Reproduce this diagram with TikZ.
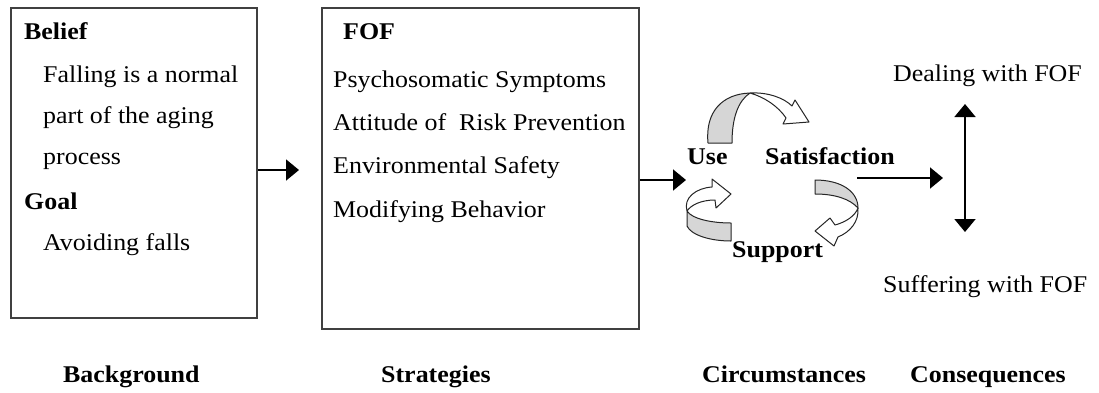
\documentclass[tikz,border=0pt]{standalone}
\usepackage{fontspec}
\setmainfont{Liberation Serif}[FakeStretch=1.08]
\usetikzlibrary{arrows.meta}
\begin{document}
\begin{tikzpicture}[x=1pt,y=-1pt,
  box/.style={draw=black!75, line width=1.6pt, inner sep=0pt},
  txt/.style={anchor=base west, inner sep=0pt, font=\fontsize{24}{28}\selectfont},
  hd/.style={anchor=base west, inner sep=0pt, font=\fontsize{24}{28}\selectfont\bfseries},
  arr/.style={line width=1.8pt, -{Triangle[length=13pt,width=21pt]}},
  darr/.style={line width=1.8pt, {Triangle[length=13pt,width=21pt]}-{Triangle[length=13pt,width=21pt]}},
  rib/.style={draw=black!85, line width=1pt, line join=round},
  ribgray/.style={rib, fill=black!16},
  ribwhite/.style={rib, fill=white},
]
\useasboundingbox (0,0) rectangle (1099,392);

% boxes
\node[box, minimum width=246pt, minimum height=310pt] (bg) at (134,163) {};
\node[box, minimum width=317pt, minimum height=321pt] (st) at (480.5,168.5) {};

% background box text
\node[hd]  (belief) at (24,39)  {Belief};
\node[txt] (b1)     at (43,82)  {Falling is a normal};
\node[txt] (b2)     at (43,123) {part of the aging};
\node[txt] (b3)     at (43,164) {process};
\node[hd]  (goal)   at (24,209) {Goal};
\node[txt] (g1)     at (43,250) {Avoiding falls};

% strategies box text
\node[hd]  (fof) at (343,39)  {FOF};
\node[txt] (s1)  at (333,87)  {Psychosomatic Symptoms};
\node[txt] (s2)  at (333,130) {Attitude of \ Risk Prevention};
\node[txt] (s3)  at (333,173) {Environmental Safety};
\node[txt] (s4)  at (333,217) {Modifying Behavior};

% circumstances
\node[hd] (use)  at (687,164) {Use};
\node[hd] (sat)  at (765,164) {Satisfaction};
\node[hd] (sup)  at (732,257) {Support};

% consequences
\node[txt] (deal) at (893,81)  {Dealing with FOF};
\node[txt] (suff) at (883,292) {Suffering with FOF};

% bottom labels
\node[hd] (l1) at (63,382)  {Background};
\node[hd] (l2) at (381,382) {Strategies};
\node[hd] (l3) at (702,382) {Circumstances};
\node[hd] (l4) at (910,382) {Consequences};

% connectors
\coordinate (a1e) at (299,170);
\coordinate (a2e) at (686,180);
\coordinate (a3s) at (857,178);
\coordinate (a3e) at (943,178);
\coordinate (vt) at (965,104);
\coordinate (vb) at (965,232);
\draw[arr] ([yshift=-7pt]bg.east) -- (a1e);
\draw[arr] ([yshift=-11.5pt]st.east) -- (a2e);
\draw[arr] (a3s) -- (a3e);
\draw[darr] (vt) -- (vb);

% cycle ribbons: top (Use -> Satisfaction)
\draw[ribgray] (708,143) .. controls (705,112) and (722,94) .. (750,93)
  .. controls (738,101) and (732,118) .. (732,143) -- cycle;
\draw[ribwhite] (750,93) .. controls (768,92) and (784,98) .. (792,106)
  -- (795,100) -- (809,122) -- (783,124) -- (786,118)
  .. controls (778,106) and (764,97) .. (750,93) -- cycle;

% right (Satisfaction -> Support)
\draw[ribgray] (815,180) .. controls (842,180) and (858,192) .. (858,208)
  .. controls (850,199) and (835,194) .. (815,194) -- cycle;
\draw[ribwhite] (858,208) .. controls (859,222) and (850,232) .. (838,237)
  -- (834,246) -- (815,231) -- (830,218) -- (835,225)
  .. controls (846,222) and (855,216) .. (858,208) -- cycle;

% left (Support -> Use)
\draw[ribgray] (731,223) .. controls (712,223) and (692,219) .. (687,211)
  -- (687,226) .. controls (691,235) and (710,241) .. (731,241) -- cycle;
\draw[ribwhite] (687,211) .. controls (683,198) and (696,188) .. (712,187)
  -- (712,179) -- (731,194) -- (716,208) -- (715,200)
  .. controls (701,200) and (691,205) .. (687,211) -- cycle;
\end{tikzpicture}
\end{document}
